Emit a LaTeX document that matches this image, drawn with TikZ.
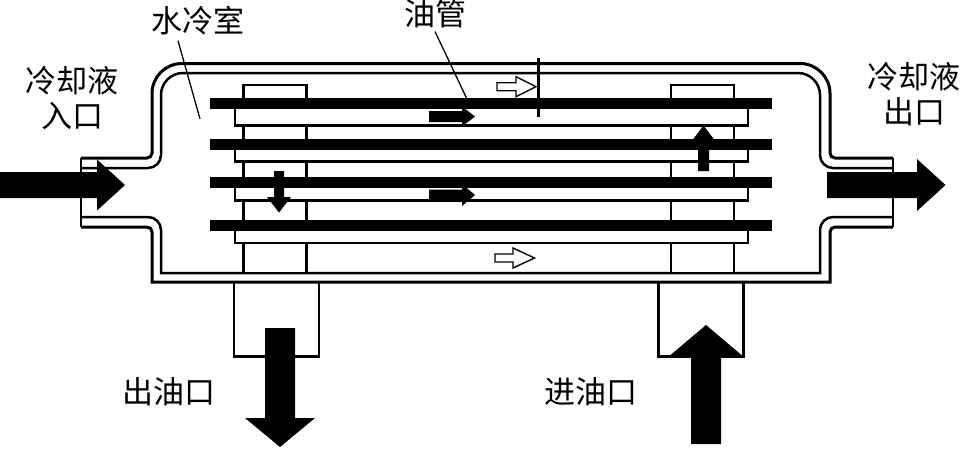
\documentclass[tikz,border=0pt]{standalone}
\usepackage{fontspec}
\newfontfamily\cjk{Noto Sans CJK SC}
\tikzset{
    casing/.style={line width=3pt},
    thinline/.style={line width=2.5pt},
    bar/.style={fill=black},
    plate/.style={draw, line width=2.2pt, fill=white},
    leader/.style={line width=1.3pt},
    hollow/.style={draw, line width=1.4pt, fill=white, line join=miter},
    solid arrow/.style={fill=black},
    label/.style={font=\cjk\fontsize{31}{35}\selectfont, align=center, inner sep=0pt}
}
\begin{document}
\begin{tikzpicture}[x=1pt, y=-1pt]
    \useasboundingbox (0,0) rectangle (960,448);

    % 壳体
    \draw[casing] (81,158) -- (147,158) arc (270:360:5pt) -- (152,93.5) arc (180:90:30pt) -- (800,63.5) arc (90:0:30pt) -- (830,153) arc (180:270:5pt) -- (893,158);
    \draw[thinline] (81,168) -- (148,168) arc (270:360:13pt) -- (161,95) arc (180:90:22pt) -- (798,73) arc (90:0:22pt) -- (820,155) arc (180:270:13pt) -- (893,168);
    \draw[thinline] (81,217) -- (148,217) arc (90:0:13pt) -- (161,273) -- (820,273) -- (820,230) arc (180:90:13pt) -- (893,217);
    \draw[casing] (81,227) -- (147,227) arc (90:0:5pt) -- (152,282) -- (830,282) -- (830,232) arc (180:90:5pt) -- (893,227);
    \draw[thinline] (81,158) -- (81,227);
    \draw[thinline] (893,158) -- (893,227);

    % 油腔与接口
    \draw[plate] (243.5,85) rectangle (306.5,273);
    \draw[plate] (671,85) rectangle (734,273);
    \draw[line width=2.5pt] (234,282) -- (234,356.5) -- (319,356.5) -- (319,282);
    \draw[line width=2.5pt] (658.5,282) -- (658.5,356.5) -- (743.5,356.5) -- (743.5,282);

    % 散热片与油管
    \foreach \yc/\yb in {103.5/125.5, 144.5/161.5, 182.5/200.5, 225.5/243} {
        \draw[plate] (235,\yc) rectangle (748,\yb);
        \fill[bar] (210,\yc-5.5) rectangle (772,\yc+5.5);
    }

    % 向右的箭头
    \foreach \xa/\xh/\xt/\yc/\sw/\hw in {0/97/125/185/13/25.5, 827/917/945.5/185/13/26, 429/462/475/116.5/5.5/10, 429/462/475/195/5.5/11} {
        \fill[solid arrow] (\xa,\yc-\sw) -- (\xh,\yc-\sw) -- (\xh,\yc-\hw) -- (\xt,\yc) -- (\xh,\yc+\hw) -- (\xh,\yc+\sw) -- (\xa,\yc+\sw) -- cycle;
    }
    % 竖直箭头
    \foreach \xc/\ya/\yh/\yt/\sw/\hw in {280/328/418/447/15/35, 706/444/355/325/15/35.5, 279/171/197/212.5/5/12, 703.5/171/142/125.5/5.5/12.5} {
        \fill[solid arrow] (\xc-\sw,\ya) -- (\xc-\sw,\yh) -- (\xc-\hw,\yh) -- (\xc,\yt) -- (\xc+\hw,\yh) -- (\xc+\sw,\yh) -- (\xc+\sw,\ya) -- cycle;
    }
    % 空心箭头
    \foreach \xa/\xh/\xt/\yc in {497/516/536/86.7, 495/513/534.5/258} {
        \path[hollow] (\xa,\yc-4) -- (\xh,\yc-4) -- (\xh,\yc-10) -- (\xt,\yc) -- (\xh,\yc+10) -- (\xh,\yc+4) -- (\xa,\yc+4) -- cycle;
    }

    % 标注线
    \coordinate (tickT) at (538.5,57.5);
    \coordinate (tickB) at (538.5,116.5);
    \draw[line width=2.4pt] (tickT) -- (tickB);

    % 标签
    \node[label] (lblChamber) at (198,21) {水冷室};
    \node[label] (lblTube) at (435,14) {油管};
    \node[label] (lblIn) at (72,98.5) {冷却液\\入口};
    \node[label] (lblOut) at (914,94.5) {冷却液\\出口};
    \node[label] (lblOilOut) at (169,392) {出油口};
    \node[label] (lblOilIn) at (590.5,392) {进油口};

    \coordinate (chamberEnd) at (200,119);
    \coordinate (tubeEnd) at (466.5,98);
    \draw[leader] ([xshift=-20pt,yshift=-5pt]lblChamber.south) -- (chamberEnd);
    \draw[leader] ([yshift=-3pt]lblTube.south) -- (tubeEnd);
\end{tikzpicture}
\end{document}
